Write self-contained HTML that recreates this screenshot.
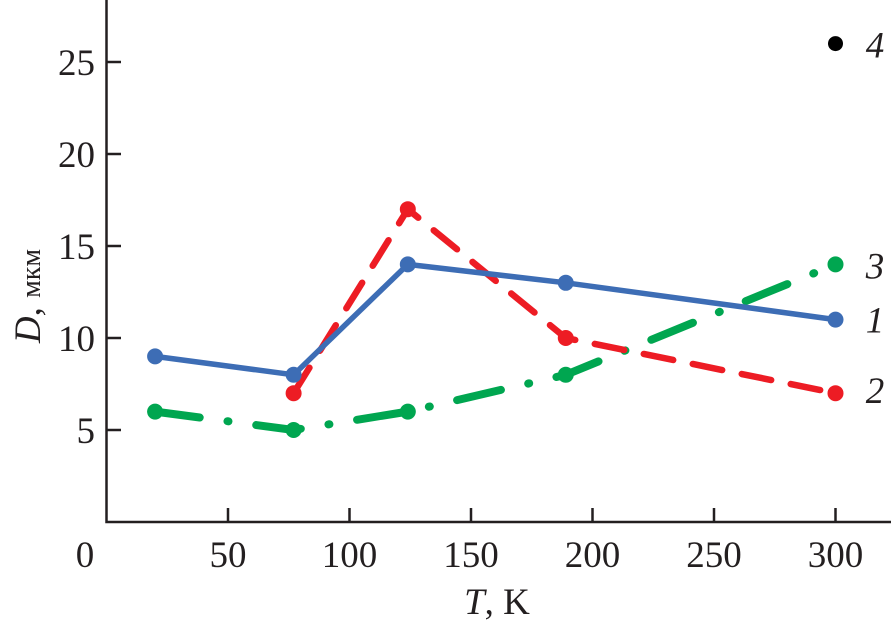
<!DOCTYPE html>
<html><head><meta charset="utf-8"><style>
html,body{margin:0;padding:0;background:#fff;}
svg{display:block;}
text{font-family:"Liberation Serif",serif;fill:#231f20;}
</style></head><body>
<svg id="chart" width="891" height="628" viewBox="0 0 891 628" xmlns="http://www.w3.org/2000/svg">
<g id="axes"></g>
<g id="series"></g>
</svg>
<script>
const xTicks=[0,50,100,150,200,250,300];
const yTicks=[5,10,15,20,25];
const tBlue=[20,77,124,189,300];
const dBlue=[9,8,14,13,11];
const tRed=[77,124,189,300];
const dRed=[7,17,10,7];
const tGreen=[20,77,124,189,300];
const dGreen=[6,5,6,8,14];
const tBlack=[300];
const dBlack=[26];
const seriesLabels=["1","2","3","4"];

const NS="http://www.w3.org/2000/svg";
const X=t=>106.5+t*2.43;
const Y=d=>522-d*18.4;
function mk(tag,attrs,parent){const e=document.createElementNS(NS,tag);for(const k in attrs)e.setAttribute(k,attrs[k]);parent.appendChild(e);return e;}
const axes=document.getElementById('axes');
const series=document.getElementById('series');
const ax=mk('path',{d:'M106.5 0 V522 H891',fill:'none',stroke:'#231f20','stroke-width':2.5},axes);


xTicks.forEach(t=>{
  if(t>0){const l=mk('line',{x1:X(t),x2:X(t),y1:522,y2:508,stroke:'#231f20','stroke-width':2.5},axes);
  
  }
  const tx=mk('text',{x:t===0?85:X(t),y:567,'text-anchor':'middle','font-size':37},axes);
  tx.textContent=t;
  
  
});
yTicks.forEach(d=>{
  const l=mk('line',{x1:106.5,x2:121,y1:Y(d),y2:Y(d),stroke:'#231f20','stroke-width':2.5},axes);
  
  
  const tx=mk('text',{x:95,y:Y(d)+13,'text-anchor':'end','font-size':37},axes);
  tx.textContent=d;
  
  
});
const xt=mk('text',{x:497,y:614,'text-anchor':'middle','font-size':37},axes);
xt.innerHTML='<tspan font-style="italic">T</tspan>, K';


const yt=mk('text',{x:0,y:0,'text-anchor':'middle','font-size':37,transform:'translate(40 296) rotate(-90)'},axes);
yt.innerHTML='<tspan font-style="italic">D</tspan>, <tspan font-size="28">мкм</tspan>';



function line(ts,ds,color,w,dash,name){
  const pts=ts.map((t,i)=>X(t)+','+Y(ds[i])).join(' ');
  const p=mk('polyline',{points:pts,fill:'none',stroke:color,'stroke-width':w,'stroke-dasharray':dash,'stroke-linecap':'round','stroke-linejoin':'round'},series);
  
  
  ts.forEach((t,i)=>{
    const c=mk('circle',{cx:X(t),cy:Y(ds[i]),r:8,fill:color},series);
    
    
  });
}
line(tGreen,dGreen,'#00a650',8,'45 28 1 28','series-3');
line(tRed,dRed,'#ed1c24',6.5,'30 20','series-2');
line(tBlue,dBlue,'#3d6db5',5.5,'none','series-1');
tBlack.forEach((t,i)=>{
  const c=mk('circle',{cx:X(t),cy:Y(dBlack[i]),r:7.5,fill:'#000'},series);
  
  
});
const lastVals=[dBlue[dBlue.length-1],dRed[dRed.length-1],dGreen[dGreen.length-1],dBlack[0]];
const offs=[0,-3,1,1];
seriesLabels.forEach((s,i)=>{
  const tx=mk('text',{x:875,y:Y(lastVals[i])+offs[i]+13,'text-anchor':'middle','font-size':37,'font-style':'italic'},series);
  tx.textContent=s;
  
  
});
</script>
</body></html>
